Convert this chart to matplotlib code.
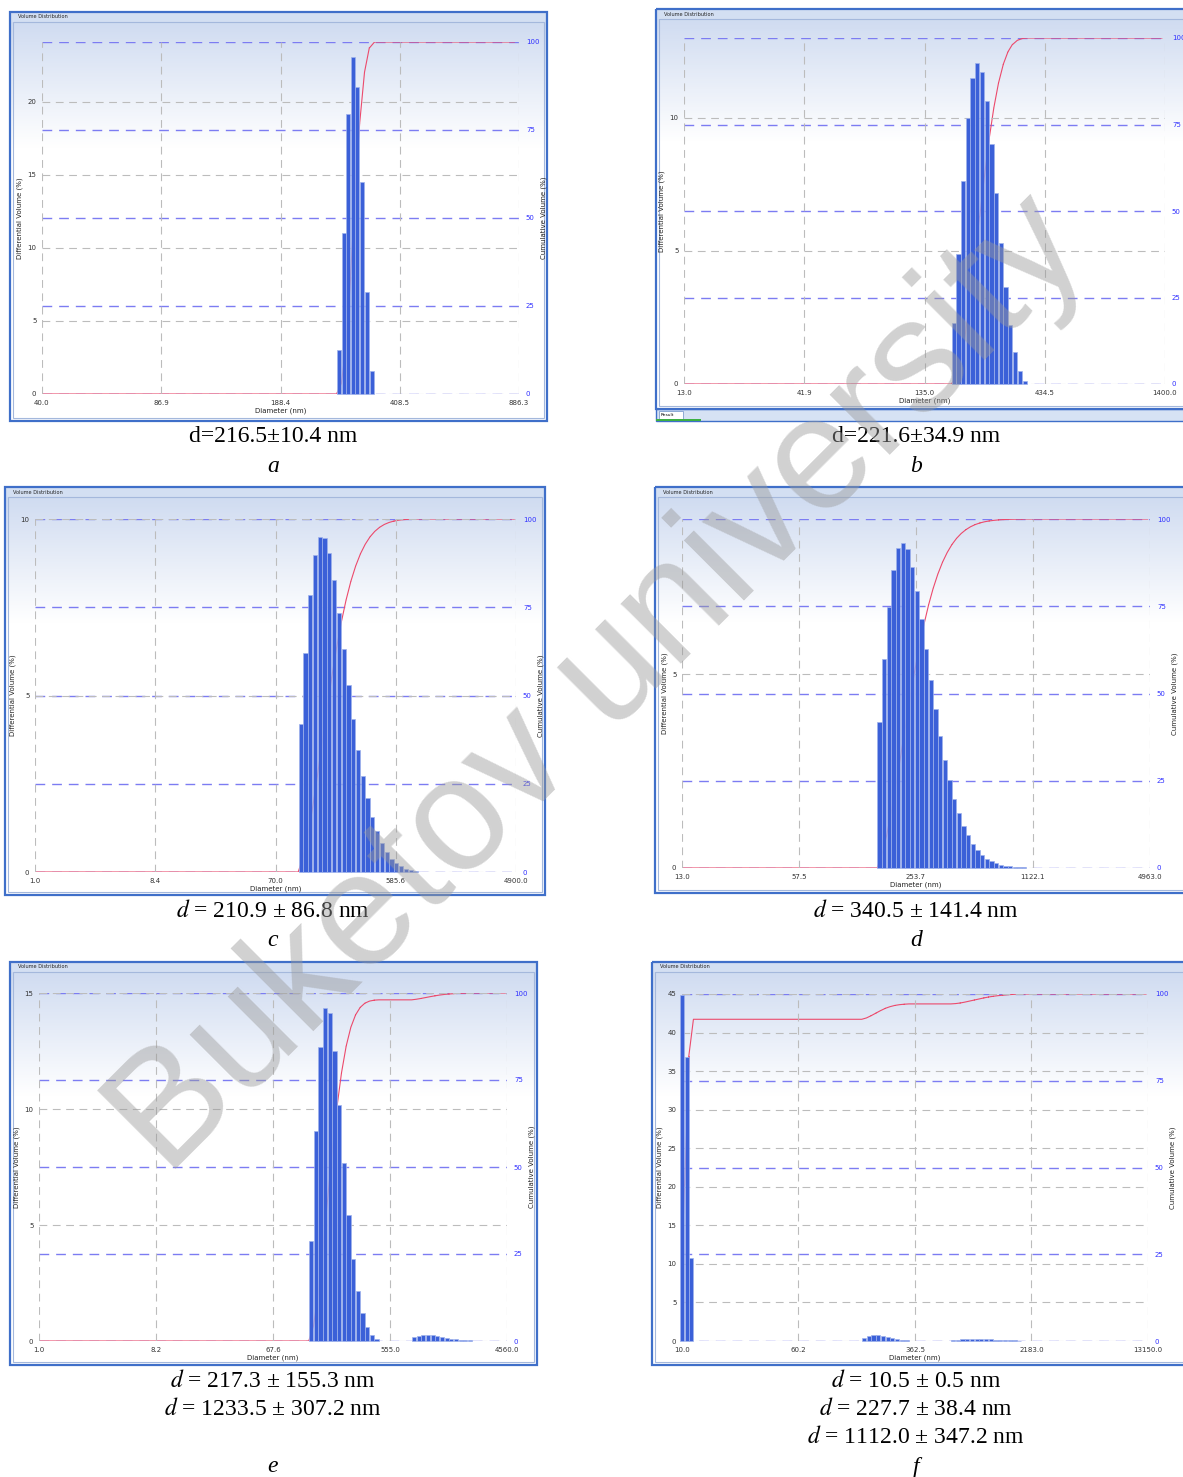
import numpy as np
import matplotlib
matplotlib.use("Agg")
import matplotlib.pyplot as plt
from matplotlib.patches import Rectangle
from matplotlib.ticker import NullLocator

plt.rcParams['mathtext.fontset'] = 'stix'
plt.rcParams['font.family'] = ['DejaVu Sans']

W, H = 1183, 1477

# ---- data read off the six volume distributions ----
# a
a_diam = [275.2, 284.0, 292.4, 301.1, 310.0, 319.9, 330.1, 341.4]
a_vol = [3.0, 11.0, 19.2, 23.1, 21.0, 14.5, 7.0, 1.6]
a_xticks = [40.0, 86.9, 188.4, 408.5, 886.3]
a_yticks = [0, 5, 10, 15, 20]
a_ymax = 24.1

# b
b_diam = [179.4, 187.7, 196.5, 205.6, 215.1, 225.1, 236.3, 247.4, 258.8, 270.9,
          283.6, 296.7, 310.4, 325.9, 342.1, 358.1]
b_vol = [2.29, 4.89, 7.64, 9.98, 11.51, 12.06, 11.74, 10.63, 9.0, 7.18,
         5.31, 3.63, 2.23, 1.19, 0.5, 0.13]
b_xticks = [13.0, 41.9, 135.0, 434.5, 1400.0]
b_yticks = [0, 5, 10]
b_ymax = 13.0

# c
c_diam = [109.1, 118.7, 129.2, 140.6, 153.0, 166.5, 181.2, 197.1, 214.5, 233.4,
          254.0, 276.4, 300.8, 327.3, 356.2, 387.6, 421.8, 459.0, 499.5, 543.6,
          591.5, 643.7, 700.5, 762.2, 829.5]
c_vol = [4.19, 6.19, 7.86, 8.97, 9.49, 9.46, 9.04, 8.27, 7.33, 6.32,
         5.30, 4.33, 3.47, 2.71, 2.10, 1.56, 1.15, 0.82, 0.57, 0.38,
         0.25, 0.16, 0.09, 0.06, 0.03]
c_xticks = [1.0, 8.4, 70.0, 585.6, 4900.0]
c_yticks = [0, 5, 10]
c_ymax = 10.0

# d
d_diam = [159.7, 169.5, 179.8, 190.8, 202.5, 214.8, 228.0, 241.9, 256.7, 272.3,
          289.0, 306.6, 325.4, 345.3, 366.4, 388.8, 412.5, 437.7, 464.5, 492.8,
          523.0, 554.9, 588.8, 624.8, 662.9, 703.5, 746.4, 792.0, 840.4, 891.8,
          946.3, 1004.1]
d_vol = [3.76, 5.38, 6.72, 7.68, 8.25, 8.39, 8.22, 7.77, 7.15, 6.41,
         5.64, 4.85, 4.10, 3.41, 2.78, 2.26, 1.79, 1.41, 1.09, 0.84,
         0.63, 0.46, 0.34, 0.24, 0.17, 0.13, 0.09, 0.06, 0.04, 0.03,
         0.02, 0.02]
d_xticks = [13.0, 57.5, 253.7, 1122.1, 4963.0]
d_yticks = [0, 5]
d_ymax = 9.0

# e
e_diam = [134.1, 145.9, 158.7, 172.6, 187.8, 204.2, 222.2, 241.7, 262.9, 286.0,
          311.1, 338.4, 368.1, 400.5, 435.6,
          853.7, 928.7, 1010.2, 1098.9, 1195.4, 1300.3, 1414.5, 1538.7, 1673.8,
          1820.7, 1980.6, 2154.5, 2343.7]
e_vol = [4.31, 9.05, 12.66, 14.34, 14.14, 12.51, 10.17, 7.69, 5.42, 3.55,
         2.17, 1.22, 0.60, 0.27, 0.09,
         0.17, 0.23, 0.26, 0.26, 0.24, 0.22, 0.17, 0.13, 0.10, 0.07, 0.05, 0.04, 0.03]
e_xticks = [1.0, 8.2, 67.6, 555.0, 4560.0]
e_yticks = [0, 5, 10, 15]
e_ymax = 15.0

# f
f_diam = [10.0, 10.8, 11.5,
          165.5, 178.0, 191.4, 205.8, 221.4, 238.0, 256.0, 275.3, 296.1, 318.4,
          652.5, 701.7, 754.6, 811.5, 872.7, 938.5, 1009.3, 1085.4, 1167.2, 1255.2,
          1349.9, 1451.6, 1561.1, 1678.8, 1805.4]
f_vol = [44.9, 36.8, 10.8,
         0.39, 0.65, 0.73, 0.73, 0.65, 0.48, 0.35, 0.22, 0.13, 0.09,
         0.09, 0.17, 0.26, 0.30, 0.30, 0.30, 0.30, 0.26, 0.22, 0.17, 0.13, 0.13,
         0.09, 0.09, 0.04]
f_xticks = [10.0, 60.2, 362.5, 2183.0, 13150.0]
f_yticks = [0, 5, 10, 15, 20, 25, 30, 35, 40, 45]
f_ymax = 45.0

cum_ticks = [0, 25, 50, 75, 100]

captions_a = ["d=216.5±10.4 nm"]
captions_b = ["d=221.6±34.9 nm"]
captions_c = [r"$d$ = 210.9 ± 86.8 nm"]
captions_d = [r"$d$ = 340.5 ± 141.4 nm"]
captions_e = [r"$d$ = 217.3 ± 155.3 nm", r"$d$ = 1233.5 ± 307.2 nm"]
captions_f = [r"$d$ = 10.5 ± 0.5 nm", r"$d$ = 227.7 ± 38.4 nm", r"$d$ = 1112.0 ± 347.2 nm"]

fig = plt.figure(figsize=(W / 100, H / 100), dpi=100)
bg = fig.add_axes([0, 0, 1, 1], zorder=-5)
bg.axis('off')

top_col = np.array([0.80, 0.85, 0.94])


def window(x0, y0, x1, y1, status=False):
    t = np.linspace(0, 1, 200)[:, None]
    f = np.clip(t / 0.33, 0, 1)[..., None]
    img = top_col * (1 - f) + f
    bg.imshow(img, extent=(x0, x1, y1, y0), aspect='auto', zorder=0)
    bg.add_patch(Rectangle((x0, y0), x1 - x0, 10, fc='#d3dff2', ec='none', zorder=1))
    bg.text(x0 + 8, y0 + 5, 'Volume Distribution', fontsize=3.6, va='center', color='#222222', zorder=2)
    bg.add_patch(Rectangle((x0 + 3, y0 + 10), x1 - x0 - 6, y1 - y0 - 13, fill=False,
                           ec='#a4b8dc', lw=0.8, zorder=2))
    bg.add_patch(Rectangle((x0, y0), x1 - x0, y1 - y0, fill=False, ec='#3f6fc9', lw=1.6, zorder=3))
    if status:
        bg.add_patch(Rectangle((x0, y1), x1 - x0, 12, fc='#d6e2f4', ec='#3f6fc9', lw=1.0, zorder=2))
        bg.add_patch(Rectangle((x0 + 3, y1 + 2), 24, 8, fc='white', ec='#7f9fd0', lw=0.6, zorder=3))
        bg.text(x0 + 5, y1 + 6, 'Result', fontsize=3.2, va='center', zorder=4)
        bg.add_patch(Rectangle((x0, y1 + 10), 45, 2, fc='#3cb043', ec='none', zorder=4))


def panel(box, diam, vol, xticks, yticks, ymax):
    px0, py0, px1, py1 = box
    ax = fig.add_axes([px0 / W, 1 - py1 / H, (px1 - px0) / W, (py1 - py0) / H])
    ax2 = ax.twinx()
    ax.set_zorder(2)
    ax2.set_zorder(1)
    ax.patch.set_visible(False)
    ax2.patch.set_visible(False)

    diam = np.array(diam)
    vol = np.array(vol)
    r = np.median(diam[1:] / diam[:-1])

    lo = diam * r ** -0.44
    hi = diam * r ** 0.44
    ax.bar(lo, vol, width=hi - lo, align='edge', color='#3b60d8',
           edgecolor='#9fb2ec', linewidth=0.5, zorder=3, clip_on=False)

    # cumulative curve (drawn on the lower axes so the bars hide it)
    cum = np.cumsum(vol) / vol.sum() * 100
    before = np.concatenate([[0], cum[:-1]])
    xs = [xticks[0]]
    ys = [0]
    for d, c0, c1 in zip(diam, before, cum):
        xs += [d / np.sqrt(r), d * np.sqrt(r)]
        ys += [c0, c1]
    xs.append(xticks[-1] * 0.97)
    ys.append(100)
    ax2.plot(xs, ys, color='#ec4a6c', lw=0.8, zorder=3)

    for a_ in (ax, ax2):
        a_.set_xscale('log')
        a_.set_xlim(xticks[0], xticks[-1])
        for s in a_.spines.values():
            s.set_visible(False)
    ax.set_ylim(0, ymax)
    ax2.set_ylim(0, 100)

    ax.set_xticks(xticks)
    ax.set_xticklabels([f'{v:.1f}' for v in xticks])
    ax.xaxis.set_minor_locator(NullLocator())
    ax.set_yticks(yticks)
    ax2.set_yticks(cum_ticks)

    ax.grid(True, color='#bcbcbc', ls=(0, (7, 5)), lw=0.8)
    ax2.yaxis.grid(True, color='#7c7cf2', ls=(0, (7, 5)), lw=1.0)
    ax.set_axisbelow(True)

    ax.tick_params(length=0, labelsize=5, pad=4, colors='#333333')
    ax2.tick_params(length=0, labelsize=5, pad=5, labelcolor='#3030ff')
    ax.set_xlabel('Diameter (nm)', fontsize=5, labelpad=1.5, color='#222222')
    ax.set_ylabel('Differential Volume (%)', fontsize=5, labelpad=3, color='#222222')
    ax2.set_ylabel('Cumulative Volume (%)', fontsize=5, labelpad=1, color='#222222')
    return ax


window(10, 12, 547, 421)
panel((42, 42, 519, 394), a_diam, a_vol, a_xticks, a_yticks, a_ymax)

window(656, 9, 1195, 409, status=True)
panel((684, 38, 1165, 384), b_diam, b_vol, b_xticks, b_yticks, b_ymax)

window(5, 487, 545, 895)
panel((35, 519, 516, 872), c_diam, c_vol, c_xticks, c_yticks, c_ymax)

window(655, 487, 1195, 893)
panel((682, 519, 1150, 868), d_diam, d_vol, d_xticks, d_yticks, d_ymax)

window(10, 962, 537, 1365)
panel((39, 993, 507, 1341), e_diam, e_vol, e_xticks, e_yticks, e_ymax)

window(652, 962, 1195, 1365)
panel((682, 994, 1148, 1341), f_diam, f_vol, f_xticks, f_yticks, f_ymax)

bg.set_xlim(0, W)
bg.set_ylim(H, 0)

serif = ['Liberation Serif', 'DejaVu Serif']


def caption(xc, ys, lines, letter, ly):
    for y, s in zip(ys, lines):
        fig.text(xc / W, 1 - y / H, s, ha='center', va='center', fontsize=17, family=serif)
    fig.text(xc / W, 1 - ly / H, letter, ha='center', va='center', fontsize=17,
             family=serif, style='italic')


caption(273, [436], captions_a, 'a', 466)
caption(916, [436], captions_b, 'b', 466)
caption(273, [911], captions_c, 'c', 941)
caption(916, [911], captions_d, 'd', 941)
caption(273, [1381, 1409], captions_e, 'e', 1467)
caption(916, [1381, 1409, 1437], captions_f, 'f', 1467)

# watermark
fig.text(600 / W, 1 - 686 / H, 'Buketov university', rotation=45, fontsize=116,
         color='#9a9a9a', alpha=0.45, ha='center', va='center',
         family=['Liberation Sans', 'DejaVu Sans'], zorder=10)

fig.savefig('out.png', dpi=100)
